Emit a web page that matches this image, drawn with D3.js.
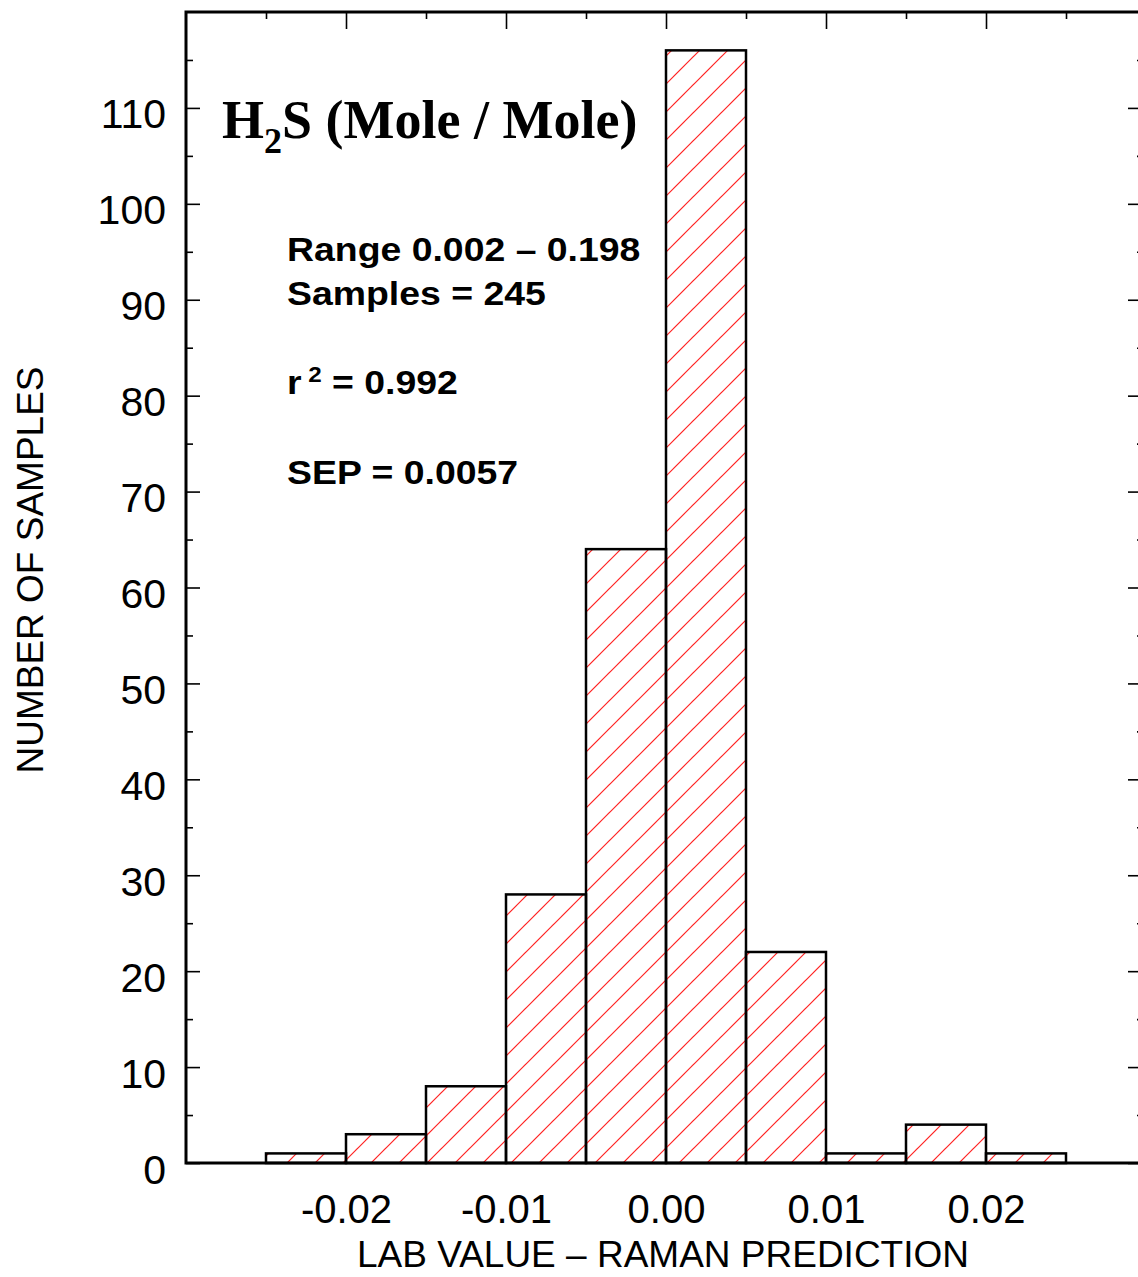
<!DOCTYPE html>
<html>
<head>
<meta charset="utf-8">
<script src="https://cdn.jsdelivr.net/npm/d3@7"></script>
<style>
body { margin: 0; background: #fff; }
svg { display: block; }
</style>
</head>
<body>
<svg width="1138" height="1277"></svg>
<script>
// histogram of residuals
var binStart = [-0.025, -0.02, -0.015, -0.01, -0.005, 0.0, 0.005, 0.01, 0.015, 0.02];
var binEnd   = [-0.02, -0.015, -0.01, -0.005, 0.0, 0.005, 0.01, 0.015, 0.02, 0.025];
var counts   = [1, 3, 8, 28, 64, 116, 22, 1, 4, 1];

var xTicks = [-0.02, -0.01, 0.0, 0.01, 0.02];
var yTicks = [0, 10, 20, 30, 40, 50, 60, 70, 80, 90, 100, 110];

var statLines = ['Range 0.002 \u2013 0.198', 'Samples = 245'];
var r2Text = ' = 0.992';
var sepText = 'SEP = 0.0057';

var svg = d3.select('svg');
var plotL = 186, plotR = 1146, plotT = 12, plotB = 1163;

var xScale = d3.scaleLinear().domain([-0.03, 0.03]).range([plotL, plotR]);
var yScale = d3.scaleLinear().domain([0, 120]).range([plotB, plotT]);

var sans = 'Liberation Sans, Arial, Helvetica, sans-serif';
var serif = 'Liberation Serif, Times New Roman, serif';

// red diagonal hatch
var defs = svg.append('defs');
var pat = defs.append('pattern')
  .attr('id', 'hatch')
  .attr('patternUnits', 'userSpaceOnUse')
  .attr('x', 22).attr('y', 0)
  .attr('width', 28).attr('height', 28);
pat.append('line').attr('x1', 0).attr('y1', 28).attr('x2', 28).attr('y2', 0)
  .attr('stroke', '#ff2020').attr('stroke-width', 1.2);
pat.append('line').attr('x1', -1).attr('y1', 1).attr('x2', 1).attr('y2', -1)
  .attr('stroke', '#ff2020').attr('stroke-width', 1.2);
pat.append('line').attr('x1', 27).attr('y1', 29).attr('x2', 29).attr('y2', 27)
  .attr('stroke', '#ff2020').attr('stroke-width', 1.2);

// bars
svg.append('g').selectAll('rect')
  .data(counts)
  .enter().append('rect')
  .attr('x', function(d, i) { return xScale(binStart[i]); })
  .attr('width', function(d, i) { return xScale(binEnd[i]) - xScale(binStart[i]); })
  .attr('y', function(d) { return yScale(d); })
  .attr('height', function(d) { return yScale(0) - yScale(d); })
  .attr('fill', 'url(#hatch)')
  .attr('stroke', '#000')
  .attr('stroke-width', 2.5);

// minor ticks (every 5 / 0.005)
var yMinor = d3.range(5, 120, 10);
var xMinor = d3.range(-0.025, 0.03, 0.01);

svg.append('g').attr('transform', 'translate(' + plotL + ',0)')
  .call(d3.axisLeft(yScale).tickValues(yMinor).tickSize(-7).tickFormat(''));
svg.append('g').attr('transform', 'translate(' + plotR + ',0)')
  .call(d3.axisRight(yScale).tickValues(yMinor).tickSize(-9).tickFormat(''));
svg.append('g').attr('transform', 'translate(0,' + plotT + ')')
  .call(d3.axisTop(xScale).tickValues(xMinor).tickSize(-7).tickFormat(''));

// major ticks + labels
var yAxis = svg.append('g').attr('class', 'yaxis').attr('transform', 'translate(' + plotL + ',0)')
  .call(d3.axisLeft(yScale).tickValues(yTicks).tickSize(-14).tickPadding(20));
svg.append('g').attr('transform', 'translate(' + plotR + ',0)')
  .call(d3.axisRight(yScale).tickValues(yTicks).tickSize(-18).tickFormat(''));
svg.append('g').attr('transform', 'translate(0,' + plotT + ')')
  .call(d3.axisTop(xScale).tickValues(xTicks).tickSize(-17).tickFormat(''));
var xAxis = svg.append('g').attr('class', 'xaxis').attr('transform', 'translate(0,' + plotB + ')')
  .call(d3.axisBottom(xScale).tickValues(xTicks).tickSize(0)
    .tickFormat(function(d) { return d.toFixed(2); }));

svg.selectAll('.domain').remove();
svg.selectAll('.tick line').attr('stroke', '#000').attr('stroke-width', 1.6);

yAxis.selectAll('text')
  .attr('dy', 20)
  .attr('font-family', sans).attr('font-size', 41).attr('fill', '#000');
xAxis.selectAll('text')
  .attr('y', 60).attr('dy', 0)
  .attr('font-family', sans).attr('font-size', 40).attr('fill', '#000');

// frame
svg.append('rect')
  .attr('x', plotL).attr('y', plotT)
  .attr('width', plotR - plotL).attr('height', plotB - plotT)
  .attr('fill', 'none').attr('stroke', '#000').attr('stroke-width', 3);

// axis titles
svg.append('text')
  .attr('x', 663).attr('y', 1267)
  .attr('text-anchor', 'middle')
  .attr('font-family', sans).attr('font-size', 36)
  .attr('textLength', 612).attr('lengthAdjust', 'spacingAndGlyphs')
  .text('LAB VALUE \u2013 RAMAN PREDICTION');

svg.append('text')
  .attr('transform', 'translate(43,570) rotate(-90)')
  .attr('text-anchor', 'middle')
  .attr('font-family', sans).attr('font-size', 37)
  .text('NUMBER OF SAMPLES');

// title H2S
var title = svg.append('text')
  .attr('x', 222).attr('y', 138)
  .attr('font-family', serif).attr('font-weight', 'bold').attr('font-size', 54);
title.append('tspan').text('H');
title.append('tspan').attr('font-size', 36).attr('dy', 15).text('2');
title.append('tspan').attr('dy', -15).text('S (Mole / Mole)');

// stats block
var stats = svg.append('g').attr('transform', 'translate(287,0) scale(1.1,1)')
  .attr('font-family', sans).attr('font-weight', 'bold').attr('font-size', 34);
stats.append('text').attr('x', 0).attr('y', 261).text(statLines[0]);
stats.append('text').attr('x', 0).attr('y', 305).text(statLines[1]);
var r2 = stats.append('text').attr('x', 0).attr('y', 394);
r2.append('tspan').text('r');
r2.append('tspan').attr('dx', 6).attr('dy', -12).attr('font-size', 22).text('2');
r2.append('tspan').attr('dy', 12).text(r2Text);
stats.append('text').attr('x', 0).attr('y', 484).text(sepText);
</script>
</body>
</html>
